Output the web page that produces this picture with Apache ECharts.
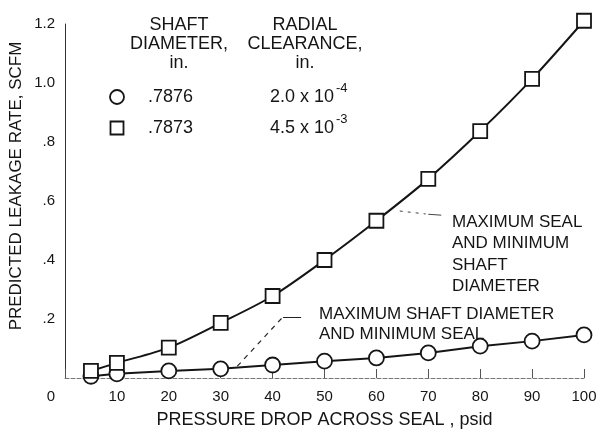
<!DOCTYPE html>
<html>
<head>
<meta charset="utf-8">
<script src="https://cdn.jsdelivr.net/npm/echarts@6/dist/echarts.min.js"></script>
<style>html,body{margin:0;padding:0;background:#fff;}#c{width:601px;height:432px;}</style>
</head>
<body>
<div id="c"></div>
<script>
// ---- data ----
const pressureDrop = [5, 10, 20, 30, 40, 50, 60, 70, 80, 90, 100];
const leakSquare = [0.024, 0.051, 0.103, 0.187, 0.278, 0.40, 0.533, 0.675, 0.837, 1.014, 1.211];
const leakCircle = [0.006, 0.014, 0.024, 0.031, 0.044, 0.057, 0.068, 0.085, 0.108, 0.125, 0.146];
const xTicks = [0, 10, 20, 30, 40, 50, 60, 70, 80, 90, 100];
const yTickLabels = {"0.2": ".2", "0.4": ".4", "0.6": ".6", "0.8": ".8", "1": "1.0", "1.2": "1.2"};
const legendHeader1 = ["SHAFT", "DIAMETER,", "in."];
const legendHeader2 = ["RADIAL", "CLEARANCE,", "in."];
const shaftDiameters = [".7876", ".7873"];
const clearanceBase = ["2.0 x 10", "4.5 x 10"];
const clearanceExp = ["-4", "-3"];
const note1 = ["MAXIMUM SEAL", "AND MINIMUM", "SHAFT", "DIAMETER"];
const note2 = ["MAXIMUM SHAFT DIAMETER", "AND MINIMUM SEAL"];
const xTitle = "PRESSURE DROP ACROSS SEAL , psid";
const yTitle = "PREDICTED LEAKAGE RATE, SCFM";

const FONT = "'Liberation Sans', Arial, Helvetica, sans-serif";
const INK = "#151515";

const chart = echarts.init(document.getElementById('c'), null, {renderer: 'canvas'});

function txt(x, y, text, size, align) {
  return {type: 'text', x: x, y: y, z: 10, style: {text: text, fill: INK, font: size + 'px ' + FONT, align: align || 'left', verticalAlign: 'middle'}};
}

const graphics = [];
// y title
graphics.push({type: 'text', x: 16, y: 186, rotation: Math.PI / 2, z: 10,
  style: {text: yTitle, fill: INK, font: '17px ' + FONT, align: 'center', verticalAlign: 'middle'}});
// legend header
legendHeader1.forEach((t, i) => graphics.push(txt(179, 25 + i * 19, t, 18, 'center')));
legendHeader2.forEach((t, i) => graphics.push(txt(305, 25 + i * 19, t, 18, 'center')));
// legend rows
const rowY = [97, 128];
graphics.push({type: 'circle', z: 10, shape: {cx: 117, cy: rowY[0], r: 7}, style: {fill: '#fff', stroke: INK, lineWidth: 1.8}});
graphics.push({type: 'rect', z: 10, shape: {x: 110.5, y: rowY[1] - 6.5, width: 13, height: 13}, style: {fill: '#fff', stroke: INK, lineWidth: 1.8}});
shaftDiameters.forEach((t, i) => graphics.push(txt(148, rowY[i], t, 18)));
clearanceBase.forEach((t, i) => graphics.push(txt(270, rowY[i], t, 18)));
clearanceExp.forEach((t, i) => graphics.push(txt(336, rowY[i] - 9, t, 13)));
// notes
note1.forEach((t, i) => graphics.push(txt(452, 222 + i * 21.5, t, 17)));
note2.forEach((t, i) => graphics.push(txt(319, 314 + i * 20, t, 17)));

const option = {
  backgroundColor: '#fff',
  animation: false,
  grid: {left: 65, right: 17, top: 24, bottom: 54, containLabel: false, outerBoundsMode: 'none'},
  xAxis: {
    type: 'value', min: 0, max: 100, interval: 10,
    name: xTitle, nameLocation: 'middle', nameGap: 33,
    nameTextStyle: {color: INK, fontSize: 18, fontFamily: FONT},
    axisLine: {show: true, lineStyle: {color: '#777', width: 1, type: 'dashed'}},
    axisTick: {show: true, inside: true, length: 9, lineStyle: {color: '#555', width: 1}},
    splitLine: {show: false},
    axisLabel: {
      color: INK, fontSize: 15, fontFamily: FONT, margin: 11,
      showMinLabel: true, showMaxLabel: true,
      formatter: v => v === 0 ? '{z|0}' : String(v),
      rich: {z: {fontSize: 15, fontFamily: FONT, color: INK, padding: [0, 28, 0, 0]}}
    }
  },
  yAxis: {
    type: 'value', min: 0, max: 1.2, interval: 0.2,
    axisLine: {show: true, lineStyle: {color: '#333', width: 1}},
    axisTick: {show: false},
    splitLine: {show: false},
    axisLabel: {
      color: INK, fontSize: 15, fontFamily: FONT, margin: 10,
      formatter: v => yTickLabels[String(+v.toFixed(1))] || ''
    }
  },
  series: [
    {
      type: 'line', name: 'circle', z: 3, clip: false,
      data: pressureDrop.map((x, i) => [x, leakCircle[i]]),
      symbol: 'circle', symbolSize: 15, showAllSymbol: true,
      lineStyle: {color: INK, width: 2},
      itemStyle: {color: '#fff', borderColor: INK, borderWidth: 1.8},
      markLine: {
        silent: true, symbol: 'none', label: {show: false}, animation: false,
        lineStyle: {color: '#222', width: 1.2, type: [5, 5]},
        data: [
          [{coord: [33.2, 0.04]}, {coord: [42, 0.207]}],
          [{coord: [42, 0.207], lineStyle: {type: 'solid', width: 1}}, {coord: [45.5, 0.207]}]
        ]
      }
    },
    {
      type: 'line', name: 'square', z: 4, clip: false,
      data: pressureDrop.map((x, i) => [x, leakSquare[i]]),
      smooth: 0.3,
      symbol: 'rect', symbolSize: 14, showAllSymbol: true,
      lineStyle: {color: INK, width: 2},
      itemStyle: {color: '#fff', borderColor: INK, borderWidth: 1.8},
      markLine: {
        silent: true, symbol: 'none', label: {show: false}, animation: false,
        lineStyle: {color: '#444', width: 1, type: [3, 5]},
        data: [
          [{coord: [64.5, 0.566]}, {coord: [69.5, 0.556]}],
          [{coord: [70, 0.555], lineStyle: {type: 'solid'}}, {coord: [72.5, 0.552]}]
        ]
      }
    }
  ],
  graphic: graphics
};
chart.setOption(option);
</script>
</body>
</html>
